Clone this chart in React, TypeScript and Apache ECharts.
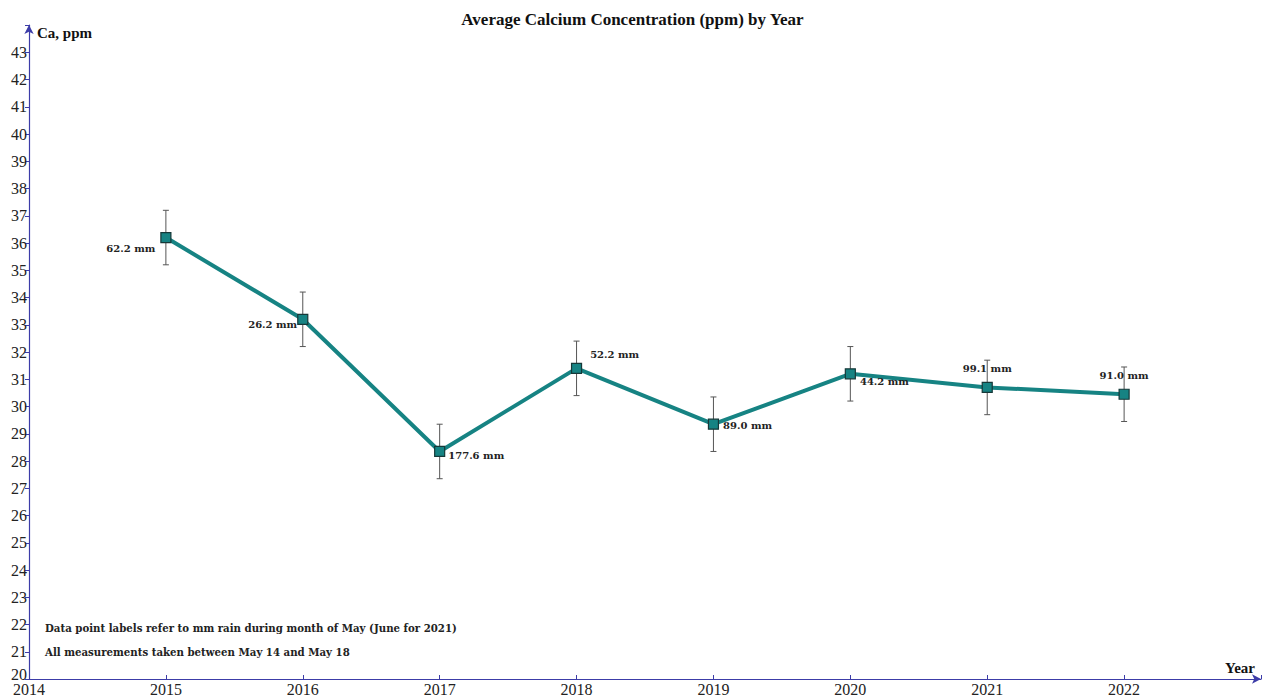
import React, { useEffect, useRef } from "react";
import * as echarts from "echarts";

const years = [2015, 2016, 2017, 2018, 2019, 2020, 2021, 2022];
const calcium = [36.2, 33.2, 28.35, 31.4, 29.35, 31.2, 30.7, 30.45];
const errLow = [35.2, 32.2, 27.35, 30.4, 28.35, 30.2, 29.7, 29.45];
const errHigh = [37.2, 34.2, 29.35, 32.4, 30.35, 32.2, 31.7, 31.45];
const rainLabels = ["62.2 mm", "26.2 mm", "177.6 mm", "52.2 mm", "89.0 mm", "44.2 mm", "99.1 mm", "91.0 mm"];
const notes = [
  "Data point labels refer to mm rain during month of May (June for 2021)",
  "All measurements taken between May 14 and May 18",
];
const yMin = 20;

const labelPlacement: any[] = [
  { position: "left", offset: [0, 11] },
  { position: "left", offset: [5, 5] },
  { position: "right", offset: [-2, 4] },
  { position: "right", offset: [3, -14] },
  { position: "right", offset: [-1, 1] },
  { position: "right", offset: [-1, 8] },
  { position: "top", offset: [0, -3] },
  { position: "top", offset: [0, -3] },
];

const SERIF = "'Liberation Serif', 'Times New Roman', serif";
const AXIS = "#3c3ca8";

export default function App() {
  const ref = useRef<HTMLDivElement>(null);
  useEffect(() => {
    if (!ref.current) return;
    const chart = echarts.init(ref.current, undefined, { renderer: "svg" });
    chart.setOption({
      animation: false,
      backgroundColor: "#ffffff",
      title: {
        text: "Average Calcium Concentration (ppm) by Year",
        left: "center",
        top: 6,
        textStyle: { fontFamily: SERIF, fontWeight: "bold", fontSize: 17, color: "#111" },
      },
      grid: { left: 29, right: 4, top: 25, bottom: 21 },
      xAxis: {
        type: "value",
        min: 2014,
        max: 2023,
        interval: 1,
        name: "Year",
        nameLocation: "end",
        nameGap: -6,
        nameTextStyle: {
          fontFamily: SERIF, fontWeight: "bold", fontSize: 15, color: "#111",
          align: "right", verticalAlign: "bottom", padding: [0, 0, 4, 0],
        },
        axisLine: { show: true, symbol: ["none", "arrow"], symbolSize: [7, 9], lineStyle: { color: AXIS, width: 1.2 } },
        axisTick: { show: true, inside: true, length: 4, lineStyle: { color: AXIS } },
        splitLine: { show: false },
        axisLabel: {
          fontFamily: SERIF, fontSize: 16, color: "#222", margin: 2,
          formatter: (v: number) => (v >= 2023 ? "" : String(v)),
        },
      },
      yAxis: {
        type: "value",
        min: yMin,
        max: 44,
        interval: 1,
        name: "Ca, ppm",
        nameLocation: "end",
        nameGap: -8,
        nameTextStyle: {
          fontFamily: SERIF, fontWeight: "bold", fontSize: 15, color: "#111",
          align: "left", verticalAlign: "middle", padding: [0, 0, 0, 8],
        },
        axisLine: { show: true, symbol: ["none", "arrow"], symbolSize: [7, 9], lineStyle: { color: AXIS, width: 1.2 } },
        axisTick: { show: true, length: 4, lineStyle: { color: AXIS } },
        splitLine: { show: false },
        axisLabel: {
          fontFamily: SERIF, fontSize: 16, color: "#222", margin: 2,
          formatter: (v: number) => (v >= 44 || v <= yMin ? "" : String(v)),
        },
      },
      series: [
        {
          type: "custom",
          z: 1,
          data: years.map((y, i) => [y, errLow[i], errHigh[i]]),
          renderItem: (params: any, api: any) => {
            const x = api.value(0);
            const lo = api.coord([x, api.value(1)]);
            const hi = api.coord([x, api.value(2)]);
            const style = { stroke: "#555", lineWidth: 1 };
            return {
              type: "group",
              children: [
                { type: "line", shape: { x1: lo[0], y1: lo[1], x2: hi[0], y2: hi[1] }, style },
                { type: "line", shape: { x1: lo[0] - 3, y1: lo[1], x2: lo[0] + 3, y2: lo[1] }, style },
                { type: "line", shape: { x1: hi[0] - 3, y1: hi[1], x2: hi[0] + 3, y2: hi[1] }, style },
              ],
            };
          },
        },
        {
          type: "line",
          z: 3,
          data: years.map((y, i) => ({
            value: [y, calcium[i]],
            label: { ...labelPlacement[i] },
          })),
          symbol: "rect",
          symbolSize: 10,
          lineStyle: { color: "#168383", width: 4 },
          itemStyle: { color: "#168383", borderColor: "#163838", borderWidth: 1.2 },
          label: {
            show: true,
            formatter: (p: any) => rainLabels[p.dataIndex],
            fontFamily: "'DejaVu Serif', serif",
            fontWeight: "bold",
            fontSize: 10,
            color: "#222",
          },
        },
      ],
      graphic: [
        ...notes.map((t, i) => ({
          type: "text",
          left: 45,
          top: 623 + i * 24,
          style: { text: t, fontFamily: "'DejaVu Serif', serif", fontWeight: "bold", fontSize: 10.2, fill: "#222" },
        })),
        {
          type: "text",
          x: 27,
          y: 682,
          style: {
            text: String(yMin), fontFamily: SERIF, fontSize: 16, fill: "#222",
            align: "right", verticalAlign: "bottom",
          },
        },
      ],
    });
    return () => chart.dispose();
  }, []);
  return <div ref={ref} style={{ position: "fixed", left: 0, top: 0, width: 1265, height: 700 }} />;
}
